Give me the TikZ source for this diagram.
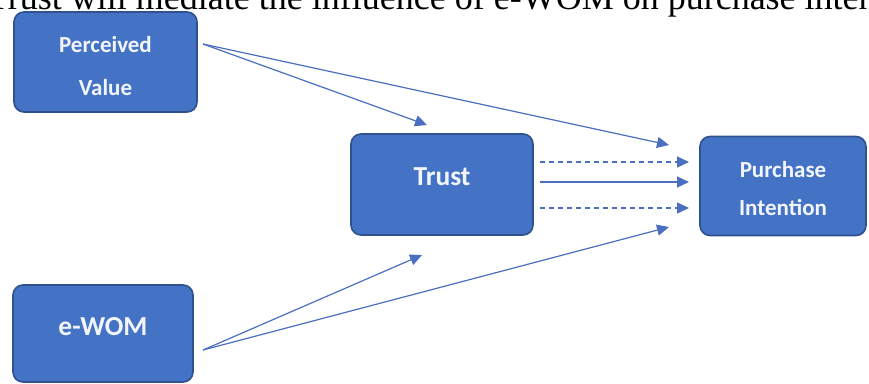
\documentclass[tikz,border=0pt]{standalone}
\usepackage{fontspec}
\setmainfont{Liberation Serif}
\newfontfamily\boxfont{Carlito}
\usetikzlibrary{arrows.meta}
\definecolor{boxblue}{HTML}{4472C4}
\definecolor{boxedge}{HTML}{2F528F}
\definecolor{arrblue}{HTML}{4A6FC0}
\definecolor{boxtxt}{HTML}{F2F5FC}
\tikzset{
  varbox/.style={draw=boxedge, line width=1.6pt, fill=boxblue, rounded corners=10pt, inner sep=0pt},
  boxlabel/.style={text=boxtxt, align=center, inner sep=0pt},
  link/.style={draw=arrblue, line width=1.2pt, -{Triangle[length=12pt,width=11pt]}},
  dlink/.style={link, dash pattern=on 5pt off 4pt}
}
\begin{document}
\begin{tikzpicture}[x=1pt,y=-1pt]
\useasboundingbox (0,0) rectangle (869,383);
\clip (0,0) rectangle (869,383);
\fill[white] (0,0) rectangle (869,383);
\node[anchor=base west, inner sep=0pt, font=\fontsize{36}{40}\selectfont] (title) at (-13,9) {Trust will mediate the influence of e-WOM on purchase intention};
\node[varbox, minimum width=183pt, minimum height=100pt] (pv) at (105.5,62) {};
\node[varbox, minimum width=182pt, minimum height=101pt] (tr) at (442,184.5) {};
\node[varbox, minimum width=166pt, minimum height=99pt] (pi) at (783,186) {};
\node[varbox, minimum width=180pt, minimum height=97pt] (ew) at (103,333.5) {};
\node[boxlabel, font=\boxfont\bfseries\fontsize{23}{43}\selectfont] (pvt) at ([yshift=-4pt]pv.center) {Perceived\\Value};
\node[boxlabel, font=\boxfont\bfseries\fontsize{27.5}{30}\selectfont] (trt) at ([yshift=8pt]tr.center) {Trust};
\node[boxlabel, font=\boxfont\bfseries\fontsize{23}{38}\selectfont] (pit) at ([yshift=-3pt]pi.center) {Purchase\\Intention};
\node[boxlabel, font=\boxfont\bfseries\fontsize{27.5}{30}\selectfont] (ewt) at ([yshift=7pt]ew.center) {e-WOM};
\coordinate (pvo) at (203,44);
\coordinate (ewo) at (203,350);
\coordinate (trin1) at (427,125);
\coordinate (trin2) at (422,255);
\coordinate (piin1) at (669,145);
\coordinate (piin2) at (669,227);
\coordinate (tro1) at (540,162);
\coordinate (tro2) at (540,182);
\coordinate (tro3) at (540,208);
\coordinate (pim1) at (689,162);
\coordinate (pim2) at (689,182);
\coordinate (pim3) at (689,208);
\draw[link] (pvo) -- (trin1);
\draw[link] (pvo) -- (piin1);
\draw[link] (ewo) -- (trin2);
\draw[link] (ewo) -- (piin2);
\draw[dlink] (tro1) -- (pim1);
\draw[link] (tro2) -- (pim2);
\draw[dlink] (tro3) -- (pim3);
\end{tikzpicture}
\end{document}
